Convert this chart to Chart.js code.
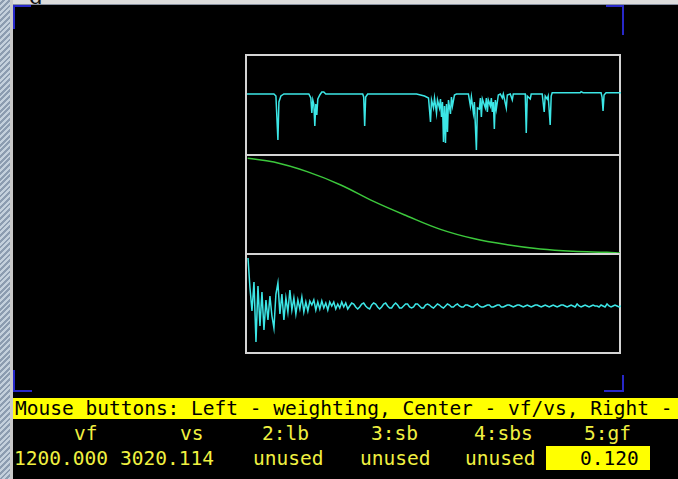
<!DOCTYPE html>
<html>
<head>
<meta charset="utf-8">
<script src="https://cdn.jsdelivr.net/npm/chart.js@4.4.0/dist/chart.umd.min.js"></script>
<style>
  body { margin:0; width:678px; height:479px; background:#000; position:relative; overflow:hidden; font-family:"DejaVu Sans Mono", monospace; }
  .abs { position:absolute; }
  #topstrip { left:0; top:0; width:678px; height:4px; background:#dcdcdc; border-bottom:1px solid #8890a0; overflow:hidden; }
  #topstrip span { position:absolute; left:29px; top:-16px; font:22px "DejaVu Serif", serif; color:#111; }
  #leftstrip { left:0; top:0; width:10px; height:479px; background:repeating-linear-gradient(135deg, #c4d0dc 0 2px, #8c9cb0 2px 4px); }
  #leftedge { left:10px; top:0; width:3px; height:479px; background:#c8c8c8; }
  .blue { background:#2828c8; }
  #box { left:245px; top:54px; width:372px; height:296px; border:2px solid #d4d4d4; }
  .div { left:245px; width:376px; height:2px; background:#d4d4d4; }
  canvas { position:absolute; }
  #bar { left:13px; top:398px; width:665px; height:21px; background:#ffff00; color:#000; font-size:19.5px; line-height:21px; white-space:pre; padding-left:2px; box-sizing:border-box; }
  .t { color:#f0f040; font-size:19.5px; line-height:20px; white-space:pre; }
  #gfbox { left:546px; top:446px; width:104px; height:24px; background:#ffff00; }
</style>
</head>
<body>
<div id="topstrip" class="abs"><span>g</span></div>
<div id="leftstrip" class="abs"></div>
<div id="leftedge" class="abs"></div>

<div class="abs blue" style="left:13px;top:5px;width:18px;height:2px"></div>
<div class="abs blue" style="left:13px;top:5px;width:2px;height:24px"></div>
<div class="abs blue" style="left:606px;top:5px;width:18px;height:2px"></div>
<div class="abs blue" style="left:622px;top:5px;width:2px;height:30px"></div>
<div class="abs blue" style="left:13px;top:370px;width:2px;height:22px"></div>
<div class="abs blue" style="left:13px;top:390px;width:19px;height:2px"></div>
<div class="abs blue" style="left:622px;top:375px;width:2px;height:17px"></div>
<div class="abs blue" style="left:604px;top:390px;width:20px;height:2px"></div>

<div id="box" class="abs"></div>
<div class="abs div" style="top:154px"></div>
<div class="abs div" style="top:253px"></div>

<canvas id="spec" width="374" height="99" style="left:247px;top:56px"></canvas>
<canvas id="weight" width="374" height="97" style="left:247px;top:156px"></canvas>
<canvas id="fid" width="374" height="97" style="left:247px;top:255px"></canvas>

<div id="bar" class="abs">Mouse buttons: Left - weighting, Center - vf/vs, Right -</div>

<div class="abs t" style="left:74px;top:424px">vf</div>
<div class="abs t" style="left:180px;top:424px">vs</div>
<div class="abs t" style="left:262px;top:424px">2:lb</div>
<div class="abs t" style="left:371px;top:424px">3:sb</div>
<div class="abs t" style="left:474px;top:424px">4:sbs</div>
<div class="abs t" style="left:584px;top:424px">5:gf</div>

<div class="abs t" style="left:14px;top:449px">1200.000</div>
<div class="abs t" style="left:120px;top:449px">3020.114</div>
<div class="abs t" style="left:253px;top:449px">unused</div>
<div class="abs t" style="left:360px;top:449px">unused</div>
<div class="abs t" style="left:465px;top:449px">unused</div>
<div id="gfbox" class="abs"></div>
<div class="abs t" style="left:580px;top:449px;color:#000">0.120</div>

<script>
// Spectrum (top panel): channel / intensity
const specX = [0, 27, 29, 31, 32, 34, 37, 62, 64, 65, 66, 67, 68, 69, 70, 71, 73, 75, 77, 79,
  116, 117, 118, 119, 121, 170, 178, 182, 184, 185, 187, 188, 190, 191, 193, 194, 195, 196, 197, 198,
  199, 200, 201, 202, 204, 205, 206, 208, 210, 222, 224, 225, 227, 228, 230, 231, 233, 234, 235, 236,
  239, 240, 241, 242, 244, 245, 246, 247, 248, 249, 250, 252, 254, 256, 257, 260, 261, 264, 266, 267,
  279, 280, 281, 284, 285, 296, 298, 299, 301, 302, 304, 305, 306, 334, 335, 337, 355, 356, 357, 358,
  360, 375];
const specY = [0, 0, -2, -46, -8, -2, 0, 0, -4, -19, -6, -10, -32, -10, -21, -5, -1, 2, 2, 0,
  0, -3, -32, -3, 0, 0, -2, -4, -28, -6, -14, -4, -19, -6, -14, -5, -23, -8, -48, -12,
  -49, -10, -38, -6, -20, -3, -12, -1, 0, 0, -12, -3, -19, -8, -56, -14, -15, -4, -23, -5,
  -14, -4, -18, -6, -12, -4, -18, -8, -35, -6, -15, -1, 0, -4, 0, -14, -1, 0, -6, 0,
  0, -39, -2, -5, 0, 0, -18, -2, -5, -2, -31, -2, 1.3, 1.3, 2.3, 1.3, 1.3, -3, -17, -1,
  1.3, 1.3];

// Weighting function (middle panel)
const gfX = [0.7, 27, 61, 94, 127, 161, 194, 227, 261, 294, 327, 361, 374];
const gfY = [1.0, 0.961, 0.857, 0.719, 0.545, 0.389, 0.25, 0.153, 0.087, 0.042, 0.018, 0.007, 0.0];

// FID (bottom panel), one value every fidStep channels
const fidStep = 2;
const fidY = [
  48, 18, -5, 24, -36, 20, -20, 14, -24, 6,
  -14, 10, -10, -22, 12, 23, -8, 12, -14, 8,
  -6, 16, -4, 8, -8, 6, -3, 9, -6, 4,
  -5, 5, 1, 6, -4, 4, -3, 5, -2, 3,
  -4, 4, 0, 4, -3, 2, -2, 4, -1, 3,
  -3, 0, 3, 2, -1, -3, -1, 2, 3, 0,
  -2, -3, 1, 3, 2, -1, -3, -1, 2, 3,
  0, -2, -2, 1, 3, 1, -2, -2, 0, 2,
  2, -1, -2, -1, 2, 2, 0, -2, -2, 1,
  2, 1, -1, -2, 0, 2, 1, -1, -2, 0,
  2, 1, -1, -1, 1, 2, 0, -1, -1, 1,
  1, 0, -1, -1, 1, 2, 0, -1, -1, 0,
  1, 1, -1, -1, 0, 1, 1, -1, -1, 0,
  1, 1, 0, -1, 0, 1, 1, 0, -1, 0,
  1, 0, -1, 0, 1, 1, 0, -1, 0, 1,
  0, -1, 0, 1, 0, -1, 0, 1, 1, 0,
  -1, 0, 1, 0, -1, 2, 0, -1, 0, 1,
  0, -1, 0, 1, 0, 0, -1, 1, 0, -1,
  2, 0, -1, 0, 1, 0, -1, 0
];

const toPoints = (xs, ys) => ys.map((y, i) => ({ x: xs[i], y: y }));

function panel(canvasId, points, color, yMin, yMax, tension) {
  return new Chart(document.getElementById(canvasId), {
    type: 'line',
    data: {
      datasets: [{
        data: points,
        borderColor: color,
        borderWidth: 1.5,
        pointRadius: 0,
        tension: tension,
        fill: false
      }]
    },
    options: {
      responsive: false,
      animation: false,
      devicePixelRatio: 1,
      layout: { padding: 0 },
      scales: {
        x: { type: 'linear', min: 0, max: 375, display: false },
        y: { min: yMin, max: yMax, display: false }
      },
      plugins: { legend: { display: false }, tooltip: { enabled: false } }
    }
  });
}

panel('spec', toPoints(specX, specY), '#3ce6e6', -61, 38, 0);
panel('weight', toPoints(gfX, gfY), '#3cc83c', 0, 1.025, 0.4);
panel('fid', fidY.map((y, i) => ({ x: i * fidStep + 1, y: y })), '#3ce6e6', -46, 51, 0);
</script>
</body>
</html>
